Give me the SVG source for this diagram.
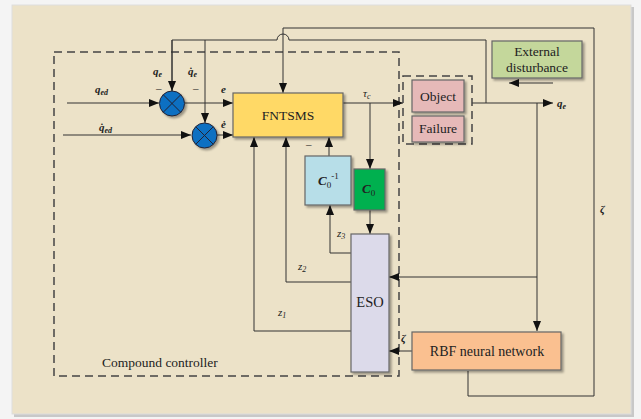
<svg xmlns="http://www.w3.org/2000/svg" width="641" height="419" viewBox="0 0 641 419" font-family="'Liberation Serif', 'Times New Roman', serif">
<style>
.ln{fill:none;stroke:#333;stroke-width:1}
.box{stroke:#666;stroke-width:1.2}
text{font-family:'Liberation Serif','Times New Roman',serif;fill:#222}
.lb{font-style:italic;font-weight:bold;font-size:11px}
.dash{fill:none;stroke:#444;stroke-width:1.5;stroke-dasharray:8,5}
</style>
<defs>
<marker id="a" viewBox="0 0 10 8" refX="10" refY="4" markerWidth="10" markerHeight="8" markerUnits="userSpaceOnUse" orient="auto"><path d="M0,0 L10,4 L0,8 Z" fill="#111"/></marker>
<filter id="sh" x="-10%" y="-10%" width="130%" height="130%"><feDropShadow dx="2" dy="2" stdDeviation="1.2" flood-color="#000" flood-opacity="0.35"/></filter>
</defs>
<rect x="0" y="0" width="641" height="419" fill="#f4f4f4"/>
<rect x="14" y="7" width="620" height="410" fill="#c8c8c8"/>
<rect x="12" y="5" width="619" height="409" fill="#ECE2C8" stroke="#ddd"/>
<g id="compound-controller">
<rect class="dash" x="54" y="52" width="345" height="324"/>
<text x="102" y="367" font-size="13.5">Compound controller</text>
</g>
<g id="connectors">
<path class="ln" d="M67,103 H159" marker-end="url(#a)"/>
<path class="ln" d="M63,135 H191" marker-end="url(#a)"/>
<path class="ln" d="M172,91 V40 H277 A6,6 0 0 1 289,40 H486 V103"/>
<path class="ln" d="M172,40 V91" marker-end="url(#a)"/>
<path class="ln" d="M205,40 V123" marker-end="url(#a)"/>
<path class="ln" d="M185,103 H233" marker-end="url(#a)"/>
<path class="ln" d="M217,135 H233" marker-end="url(#a)"/>
<path class="ln" d="M468,371 V396 H594 V28 H283 V93" marker-end="url(#a)"/>
<path class="ln" d="M343,103 H403" marker-end="url(#a)"/>
<path class="ln" d="M370,103 V169" marker-end="url(#a)"/>
<path class="ln" d="M370,210 V234" marker-end="url(#a)"/>
<path class="ln" d="M329,156 V137" marker-end="url(#a)"/>
<path class="ln" d="M351,253 H330 V205" marker-end="url(#a)"/>
<path class="ln" d="M351,282 H286 V137" marker-end="url(#a)"/>
<path class="ln" d="M351,331 H254 V137" marker-end="url(#a)"/>
<path class="ln" d="M472,103 H553" marker-end="url(#a)"/>
<path class="ln" d="M537,103 V331" marker-end="url(#a)"/>
<path class="ln" d="M537,277 H389" marker-end="url(#a)"/>
<path class="ln" d="M412,351 H389" marker-end="url(#a)"/>
<path class="ln" d="M553,83 H509" marker-end="url(#a)"/>
</g>
<g id="sum1">
<circle cx="172" cy="103.5" r="12.5" fill="#0B6FC2" stroke="#223" stroke-width="1" filter="url(#sh)"/>
<path d="M163.2,94.7 L180.8,112.3 M180.8,94.7 L163.2,112.3" stroke="#223" stroke-width="1"/>
</g>
<g id="sum2">
<circle cx="204.5" cy="135.5" r="12.5" fill="#0B6FC2" stroke="#223" stroke-width="1" filter="url(#sh)"/>
<path d="M195.7,126.7 L213.3,144.3 M213.3,126.7 L195.7,144.3" stroke="#223" stroke-width="1"/>
</g>
<g id="labels">
<text class="lb" x="95" y="93">q<tspan font-size="8" dy="2">ed</tspan></text>
<text class="lb" x="99" y="131">q̇<tspan font-size="8" dy="2">ed</tspan></text>
<text class="lb" x="153" y="75">q<tspan font-size="8" dy="2">e</tspan></text>
<text class="lb" x="188" y="75">q̇<tspan font-size="8" dy="2">e</tspan></text>
<text x="156" y="92" font-size="11">–</text>
<text x="193" y="92" font-size="11">–</text>
<text class="lb" x="221" y="93">e</text>
<text class="lb" x="221" y="128">ė</text>
<text x="306" y="148" font-size="11">–</text>
<text x="363" y="97" font-style="italic" font-size="11">τ<tspan font-size="8" dy="2">c</tspan></text>
<text x="298" y="270" font-size="11" font-style="italic">z<tspan font-size="8" dy="2">2</tspan></text>
<text x="278" y="316" font-size="11" font-style="italic">z<tspan font-size="8" dy="2">1</tspan></text>
<text x="337" y="237" font-size="11" font-style="italic">z<tspan font-size="8" dy="2">3</tspan></text>
<text class="lb" x="557" y="107">q<tspan font-size="8" dy="2">e</tspan></text>
<text class="lb" x="401" y="342" font-size="13">ζ</text>
<text class="lb" x="600" y="213" font-size="13">ζ</text>
</g>
<g id="FNTSMS">
<rect class="box" x="233" y="93" width="110" height="44" fill="#FFD966" filter="url(#sh)"/>
<text x="288" y="120" font-size="13.5" text-anchor="middle">FNTSMS</text>
</g>
<g id="C0inv">
<rect class="box" x="305" y="156" width="46" height="49" fill="#B7DEE8" filter="url(#sh)"/>
<text x="318" y="185" font-size="13" font-style="italic" font-weight="bold">C<tspan font-size="9" font-style="normal" font-weight="normal" dy="3">0</tspan><tspan font-size="9" font-style="normal" font-weight="normal" dy="-9">-1</tspan></text>
</g>
<g id="C0">
<rect class="box" x="354" y="169" width="31" height="41" fill="#00B050" filter="url(#sh)"/>
<text x="362" y="193" font-size="13" font-style="italic" font-weight="bold">C<tspan font-size="9" font-style="normal" font-weight="normal" dy="3">0</tspan></text>
</g>
<g id="ESO">
<rect class="box" x="351" y="234" width="38" height="138" fill="#DCDAEA" filter="url(#sh)"/>
<text x="370" y="307" font-size="14.5" text-anchor="middle">ESO</text>
</g>
<g id="plant">
<rect class="dash" x="403" y="76" width="69" height="68" stroke-width="1.3" stroke-dasharray="6,4"/>
</g>
<g id="Object">
<rect class="box" x="412" y="80" width="52" height="32" fill="#E6B9B8" filter="url(#sh)"/>
<text x="438" y="101" font-size="13.5" text-anchor="middle">Object</text>
</g>
<g id="Failure">
<rect class="box" x="412" y="116" width="52" height="26" fill="#E6B9B8" filter="url(#sh)"/>
<text x="438" y="133" font-size="13.5" text-anchor="middle">Failure</text>
</g>
<g id="external-disturbance">
<rect class="box" x="492" y="41" width="90" height="37" fill="#C4D79B" filter="url(#sh)"/>
<text x="537" y="56" font-size="13.5" text-anchor="middle">External</text>
<text x="537" y="72" font-size="13.5" text-anchor="middle">disturbance</text>
</g>
<g id="RBF">
<rect class="box" x="412" y="332" width="149" height="38" fill="#FAC090" filter="url(#sh)"/>
<text x="487" y="356" font-size="14" text-anchor="middle">RBF neural network</text>
</g>
</svg>
